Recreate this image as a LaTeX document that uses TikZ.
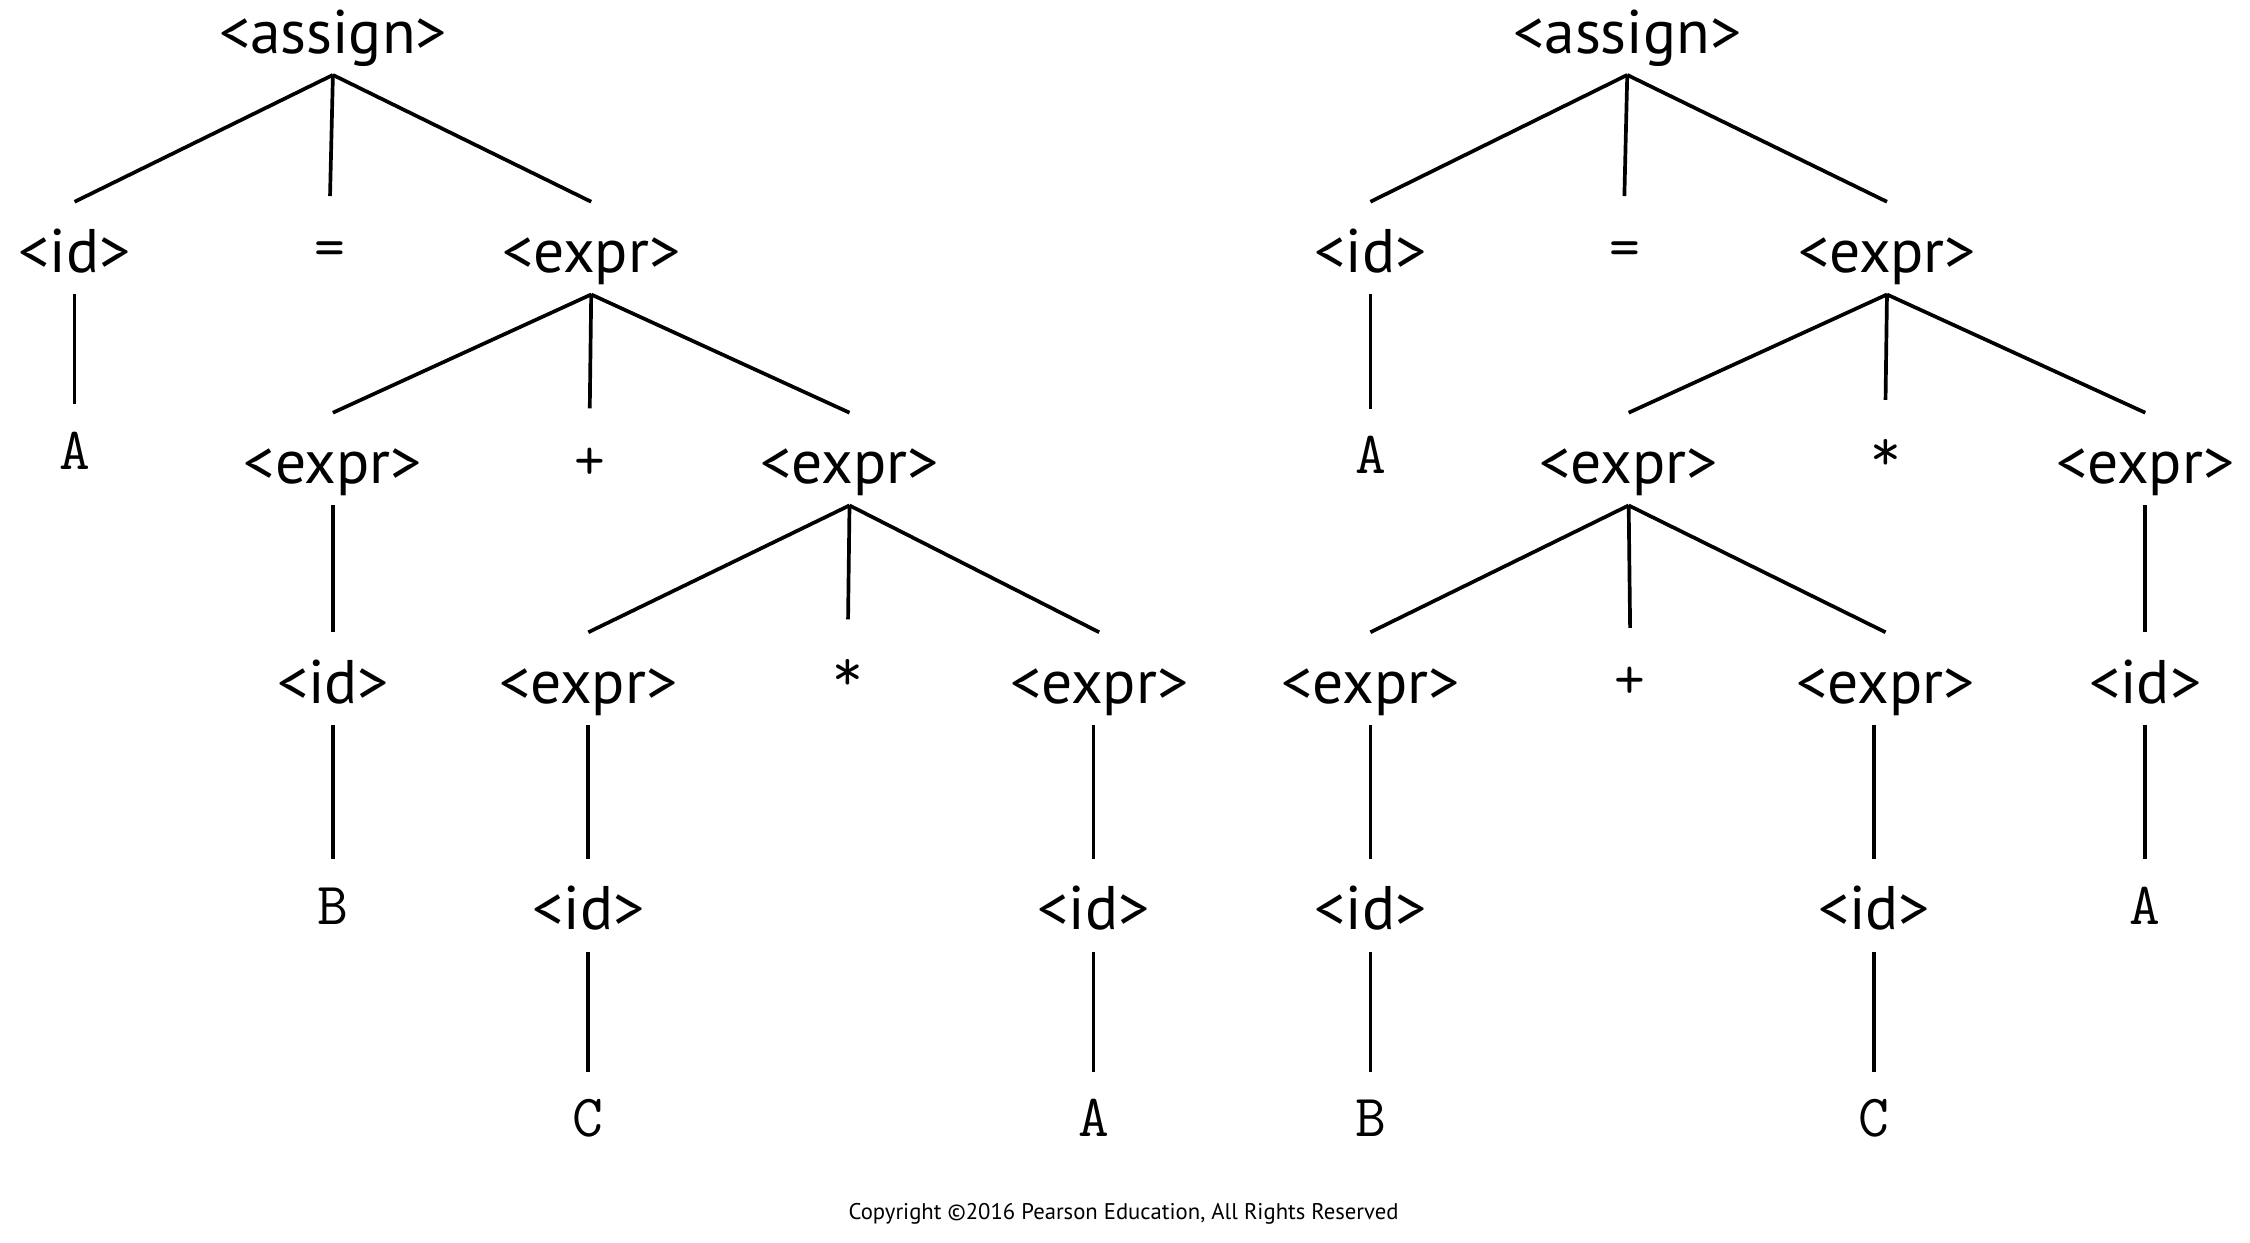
\documentclass[tikz,border=0pt]{standalone}
\usepackage{fontspec}
\setsansfont{PT Sans}
\usepackage{tikz}
\usetikzlibrary{positioning}

\begin{document}
\begin{tikzpicture}[
  x=0.01435cm, y=-0.01435cm,
  line width=1.05pt,
  nt/.style={anchor=base, inner sep=0pt, text height=0.69cm, text depth=0.2cm, font=\sffamily\fontsize{17.5}{17.5}\selectfont},
  sym/.style={anchor=base, inner sep=0pt, text height=0.69cm, text depth=0.2cm, font=\ttfamily\fontsize{17}{17}\selectfont},
  term/.style={anchor=base, inner sep=0pt, text height=0.63cm, text depth=0.2cm, font=\ttfamily\fontsize{17}{17}\selectfont}
]
  \useasboundingbox (0,0) rectangle (1568,866);

  % left tree
  \node[nt] (La) at (232,37) {<assign>};
  \node[nt] (Li) at (52,190) {<id>};
  \node[sym] (Leq) at (230,186) {=};
  \node[nt] (Le) at (412,190) {<expr>};
  \node[term] (LA) at (52,327) {A};
  \node[nt] (Le1) at (232,337) {<expr>};
  \node[sym] (Lplus) at (411,334) {+};
  \node[nt] (Le2) at (592,337) {<expr>};
  \node[nt] (Li1) at (232,490) {<id>};
  \node[term] (LB) at (232,644) {B};
  \node[nt] (Le3) at (410,490) {<expr>};
  \node[sym] (Lstar) at (591,481) {*};
  \node[nt] (Le4) at (766,490) {<expr>};
  \node[nt] (Li2) at (410,648) {<id>};
  \node[term] (LC) at (410,792) {C};
  \node[nt] (Li3) at (762,648) {<id>};
  \node[term] (LA2) at (762,792) {A};

  \foreach \c in {Li,Leq,Le} \draw (La.south) -- (\c.north);
  \foreach \c in {Le1,Lplus,Le2} \draw (Le.south) -- (\c.north);
  \foreach \c in {Le3,Lstar,Le4} \draw (Le2.south) -- (\c.north);
  \draw (Li) -- (LA);
  \draw (Le1) -- (Li1);
  \draw (Li1) -- (LB);
  \draw (Le3) -- (Li2);
  \draw (Li2) -- (LC);
  \draw (Le4.south -| Li3) -- (Li3);
  \draw (Li3) -- (LA2);

  % right tree
  \node[nt] (Ra) at (1134,37) {<assign>};
  \node[nt] (Ri) at (955,190) {<id>};
  \node[sym] (Req) at (1132,186) {=};
  \node[nt] (Re) at (1315,190) {<expr>};
  \node[term] (RA) at (955,330) {A};
  \node[nt] (Re1) at (1135,337) {<expr>};
  \node[sym] (Rstar) at (1314,328) {*};
  \node[nt] (Re2) at (1495,337) {<expr>};
  \node[nt] (Re3) at (955,490) {<expr>};
  \node[sym] (Rplus) at (1136,487) {+};
  \node[nt] (Re4) at (1314,490) {<expr>};
  \node[nt] (Ri1) at (1495,490) {<id>};
  \node[term] (RA2) at (1495,644) {A};
  \node[nt] (Ri2) at (955,648) {<id>};
  \node[term] (RB) at (955,792) {B};
  \node[nt] (Ri3) at (1306,648) {<id>};
  \node[term] (RC) at (1306,792) {C};

  \foreach \c in {Ri,Req,Re} \draw (Ra.south) -- (\c.north);
  \foreach \c in {Re1,Rstar,Re2} \draw (Re.south) -- (\c.north);
  \foreach \c in {Re3,Rplus,Re4} \draw (Re1.south) -- (\c.north);
  \draw (Ri) -- (RA);
  \draw (Re2) -- (Ri1);
  \draw (Ri1) -- (RA2);
  \draw (Re3) -- (Ri2);
  \draw (Ri2) -- (RB);
  \draw (Re4.south -| Ri3) -- (Ri3);
  \draw (Ri3) -- (RC);

  \node[anchor=base, inner sep=0pt, font=\sffamily\fontsize{6.45}{6.45}\selectfont] (copy) at (783,850) {Copyright \textcopyright2016 Pearson Education, All Rights Reserved};
\end{tikzpicture}
\end{document}
